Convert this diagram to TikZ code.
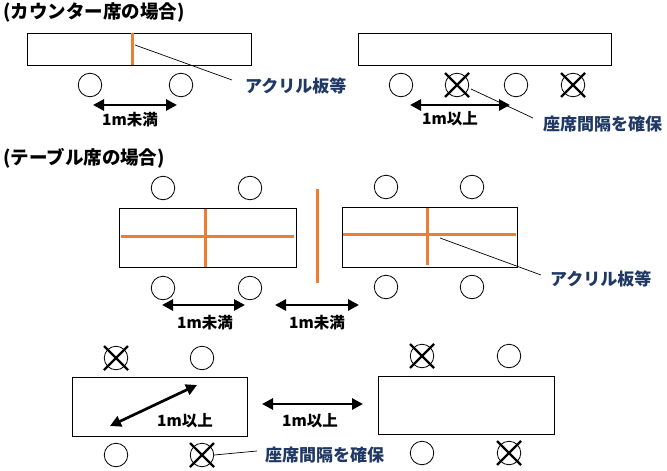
\documentclass[tikz,border=0pt]{standalone}
\usepackage{fontspec}
\setmainfont{Noto Sans CJK JP}
\usetikzlibrary{arrows.meta}
\definecolor{acr}{HTML}{ED7D31}
\definecolor{lbl}{HTML}{1F3864}
\tikzset{
  tbl/.style 2 args={draw, line width=0.9pt, inner sep=0pt, minimum width=#1pt, minimum height=#2pt},
  seat/.style={draw, circle, line width=0.8pt, minimum size=23.5pt, inner sep=0pt},
  crs/.style={line width=2.4pt},
  panel/.style={acr, line width=3pt},
  dim/.style={line width=2.7pt, {Triangle[length=11pt,width=11pt]}-{Triangle[length=11pt,width=11pt]}},
  lead/.style={line width=0.7pt},
  txt/.style={font=\fontsize{15.5}{18}\selectfont\bfseries, inner sep=0pt},
  note/.style={txt, text=lbl, font=\fontsize{17}{19}\selectfont\bfseries},
  ttl/.style={font=\fontsize{18.5}{20}\selectfont\bfseries, inner sep=0pt, anchor=west},
}
\newcommand{\xcross}[1]{\draw[crs] ([shift={(-12,-12)}]#1.center) -- ([shift={(12,12)}]#1.center) ([shift={(-12,12)}]#1.center) -- ([shift={(12,-12)}]#1.center);}
\begin{document}
\begin{tikzpicture}[x=1pt,y=-1pt]
\useasboundingbox[fill=white] (0,0) rectangle (667,471);
% titles
\node[ttl] (t1) at (3,12) {(カウンター席の場合)};
\node[ttl] (t2) at (3,158) {(テーブル席の場合)};

% ---- counter left
\node[tbl={224}{32}] (c1) at (139,49) {};
\draw[panel] (132,33) coordinate (p1a) -- (132,65) coordinate (p1b);
\node[seat] (a1) at (90,85) {};
\node[seat] (a2) at (181,85) {};
\coordinate (d1a) at (93,105); \coordinate (d1b) at (177,105);
\draw[dim] (d1a) -- (d1b);
\node[txt] (l1) at (130,120) {1m未満};
\node[note, anchor=west] (n1) at (245,86) {アクリル板等};
\coordinate (q1) at (135,45);
\draw[lead] (q1) -- (232,80) coordinate (q1e);

% ---- counter right
\node[tbl={253}{32}] (c2) at (484.5,49) {};
\node[seat] (b1) at (401,85) {};
\node[seat] (b2) at (457,85) {};
\node[seat] (b3) at (516,85) {};
\node[seat] (b4) at (573,85) {};
\xcross{b2}\xcross{b4}
\coordinate (d2a) at (410,105); \coordinate (d2b) at (510,105);
\draw[dim] (d2a) -- (d2b);
\node[txt] (l2) at (450,119) {1m以上};
\node[note, anchor=west] (n2) at (543,124) {座席間隔を確保};
\draw[lead] ([shift={(14,4)}]b2.center) -- (533,118);

% ---- table middle left
\node[tbl={177}{59}] (m1) at (207.5,237.5) {};
\draw[panel] (121,236) -- (294,236);
\draw[panel] (205,209) -- (205,267);
\node[seat] (e1) at (163,188) {};
\node[seat] (e2) at (250,188) {};
\node[seat] (e3) at (163,288) {};
\node[seat] (e4) at (250,288) {};
\draw[panel] (317,189) coordinate (pp1) -- (317,283) coordinate (pp2);
\coordinate (d3a) at (162,305); \coordinate (d3b) at (245,305);
\draw[dim] (d3a) -- (d3b);
\node[txt] (l3) at (205,323) {1m未満};
\coordinate (d4a) at (275,305); \coordinate (d4b) at (359,305);
\draw[dim] (d4a) -- (d4b);
\node[txt] (l4) at (317,323) {1m未満};

% ---- table middle right
\node[tbl={175}{60}] (m2) at (429.5,237) {};
\draw[panel] (343,234) -- (516,234);
\draw[panel] (427,208) -- (427,265);
\node[seat] (f1) at (386,187) {};
\node[seat] (f2) at (472,187) {};
\node[seat] (f3) at (386,287) {};
\node[seat] (f4) at (472,287) {};
\node[note, anchor=west] (n3) at (550,279) {アクリル板等};
\draw[lead] (440,238) -- (541,275);

% ---- table bottom left
\node[tbl={175}{59}] (g1) at (159.5,406.5) {};
\node[seat] (h1) at (116,358) {};
\node[seat] (h2) at (202,358) {};
\node[seat] (h3) at (116,455) {};
\node[seat] (h4) at (202,455) {};
\xcross{h1}\xcross{h4}
\coordinate (d5a) at (110,426); \coordinate (d5b) at (197,385);
\draw[dim] (d5a) -- (d5b);
\node[txt] (l5) at (185,421) {1m以上};
\coordinate (d6a) at (262,404); \coordinate (d6b) at (363,404);
\draw[dim] (d6a) -- (d6b);
\node[txt] (l6) at (310,421) {1m以上};
\node[note, anchor=west] (n4) at (265,455) {座席間隔を確保};
\draw[lead] (h4.east) -- (257,451);

% ---- table bottom right
\node[tbl={176}{58}] (g2) at (466,405) {};
\node[seat] (k1) at (422,356) {};
\node[seat] (k2) at (509,356) {};
\node[seat] (k3) at (422,453) {};
\node[seat] (k4) at (509,453) {};
\xcross{k1}\xcross{k4}
\end{tikzpicture}
\end{document}
